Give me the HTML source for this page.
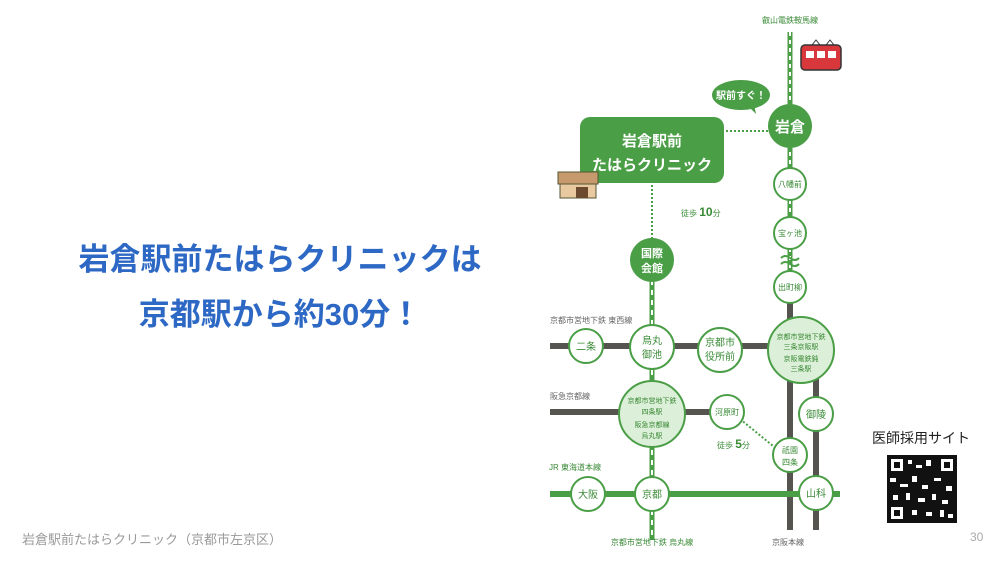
<!DOCTYPE html>
<html><head><meta charset="utf-8"><style>
body{margin:0;width:1002px;height:563px;background:#fff;overflow:hidden;font-family:"Liberation Sans","Noto Sans CJK JP",sans-serif;position:relative}
.t{position:absolute;left:0;width:560px;text-align:center;color:#2c68c4;font-weight:bold;font-size:31px}
</style></head><body>
<div class="t" style="top:234px">岩倉駅前たはらクリニックは</div>
<div class="t" style="top:289px">京都駅から約30分！</div>
<div style="position:absolute;left:22px;top:529px;font-size:13px;color:#9a9a9a">岩倉駅前たはらクリニック（京都市左京区）</div>
<div style="position:absolute;left:970px;top:530px;font-size:12px;color:#aaa">30</div>
<div style="position:absolute;left:872px;top:428px;font-size:14px;color:#222">医師採用サイト</div>
<svg width="1002" height="563" style="position:absolute;left:0;top:0" font-family="'Liberation Sans','Noto Sans CJK JP',sans-serif">
<g fill="#4a9e46">
<rect x="550" y="343" width="220" height="6" fill="#55544e"/>
<rect x="550" y="409" width="170" height="6" fill="#55544e"/>
<rect x="787" y="300" width="6" height="230" fill="#55544e"/>
<rect x="813" y="370" width="6" height="160" fill="#55544e"/>
<rect x="550" y="491" width="290" height="6"/>
<line x1="790" y1="32" x2="790" y2="300" stroke="#4a9e46" stroke-width="5"/>
<line x1="790" y1="32" x2="790" y2="300" stroke="#fff" stroke-width="2" stroke-dasharray="4 4"/>
<line x1="652" y1="190" x2="652" y2="540" stroke="#4a9e46" stroke-width="5"/>
<line x1="652" y1="190" x2="652" y2="540" stroke="#fff" stroke-width="2" stroke-dasharray="5 5"/>
<rect x="640" y="185" width="24" height="53" fill="#fff"/>
<line x1="652" y1="185" x2="652" y2="238" stroke="#4a9e46" stroke-width="2" stroke-dasharray="2 2"/>
<line x1="726" y1="131" x2="768" y2="131" stroke="#4a9e46" stroke-width="2" stroke-dasharray="2 2"/>
<line x1="740" y1="419" x2="778" y2="450" stroke="#4a9e46" stroke-width="2" stroke-dasharray="2 2"/>
<path d="M781 258q4-4 9 0t9 0M781 264q4-4 9 0t9 0" stroke="#4a9e46" stroke-width="2" fill="none"/>
<rect x="580" y="117" width="144" height="66" rx="10"/>
<ellipse cx="741" cy="95" rx="29" ry="15"/><path d="M748 106l8 8-2-10z"/>
<circle cx="790" cy="126" r="22"/><circle cx="652" cy="260" r="22"/>
</g>
<g stroke="#4a9e46" stroke-width="2" fill="#fff">
<circle cx="790" cy="184" r="16"/><circle cx="790" cy="233" r="16"/><circle cx="790" cy="287" r="16"/>
<circle cx="801" cy="350" r="33" fill="#dcefd8"/><circle cx="652" cy="414" r="33" fill="#dcefd8"/>
<circle cx="586" cy="346" r="17"/><circle cx="652" cy="347" r="22"/><circle cx="720" cy="350" r="22"/>
<circle cx="727" cy="412" r="17"/><circle cx="816" cy="414" r="17"/><circle cx="790" cy="455" r="17"/>
<circle cx="588" cy="494" r="17"/><circle cx="652" cy="494" r="17"/><circle cx="816" cy="493" r="17"/>
</g>
<rect x="801" y="45" width="40" height="25" rx="4" fill="#d8383c" stroke="#333" stroke-width="1.5"/>
<rect x="806" y="51" width="8" height="7" fill="#fff"/><rect x="817" y="51" width="8" height="7" fill="#fff"/><rect x="828" y="51" width="8" height="7" fill="#fff"/>
<path d="M812 45l4-5 4 5M826 45l4-5 4 5" stroke="#333" fill="none"/>
<rect x="558" y="172" width="40" height="12" fill="#c79a6e" stroke="#553" /><rect x="560" y="184" width="36" height="14" fill="#e8c9a0" stroke="#553"/>
<rect x="576" y="187" width="12" height="11" fill="#6b4a30"/>
<g fill="#fff" text-anchor="middle" font-weight="bold">
<text x="652" y="146" font-size="15">岩倉駅前</text><text x="652" y="170" font-size="15">たはらクリニック</text>
<text x="741" y="99" font-size="10">駅前すぐ！</text>
<text x="790" y="132" font-size="15">岩倉</text>
<text x="652" y="257" font-size="11">国際</text><text x="652" y="272" font-size="11">会館</text>
</g>
<g fill="#3a8a36" text-anchor="middle" font-size="8">
<text x="790" y="23" font-size="8">叡山電鉄鞍馬線</text>
<text x="790" y="187">八幡前</text><text x="790" y="236">宝ヶ池</text><text x="790" y="290">出町柳</text>
<text x="801" y="339" font-size="7">京都市営地下鉄</text><text x="801" y="349" font-size="7">三条京阪駅</text><text x="801" y="361" font-size="7">京阪電鉄鈍</text><text x="801" y="371" font-size="7">三条駅</text>
<text x="652" y="403" font-size="7">京都市営地下鉄</text><text x="652" y="414" font-size="7">四条駅</text><text x="652" y="427" font-size="7">阪急京都線</text><text x="652" y="438" font-size="7">烏丸駅</text>
<text x="586" y="350" font-size="10">二条</text>
<text x="652" y="344" font-size="10">烏丸</text><text x="652" y="358" font-size="10">御池</text>
<text x="720" y="346" font-size="10">京都市</text><text x="720" y="360" font-size="10">役所前</text>
<text x="727" y="415">河原町</text><text x="816" y="418" font-size="10">御陵</text>
<text x="790" y="453">祇園</text><text x="790" y="465">四条</text>
<text x="588" y="498" font-size="10">大阪</text><text x="652" y="498" font-size="10">京都</text><text x="816" y="497" font-size="10">山科</text>
<text x="681" y="216" text-anchor="start">徒歩 <tspan font-size="12" font-weight="bold">10</tspan>分</text>
<text x="717" y="448" text-anchor="start">徒歩 <tspan font-size="12" font-weight="bold">5</tspan>分</text>
<text x="549" y="470" text-anchor="start">JR 東海道本線</text>
<text x="652" y="545">京都市営地下鉄 烏丸線</text>
</g>
<g fill="#666" font-size="8">
<text x="550" y="323">京都市営地下鉄 東西線</text><text x="550" y="399">阪急京都線</text><text x="772" y="545">京阪本線</text>
</g>
<rect x="887" y="455" width="70" height="68" fill="#111"/>
<g fill="#fff">
<rect x="891" y="459" width="12" height="12"/><rect x="941" y="459" width="12" height="12"/><rect x="891" y="507" width="12" height="12"/>
<rect x="908" y="460" width="4" height="4"/><rect x="916" y="465" width="6" height="3"/><rect x="926" y="460" width="5" height="6"/>
<rect x="890" y="478" width="6" height="4"/><rect x="900" y="484" width="8" height="3"/><rect x="912" y="476" width="5" height="6"/>
<rect x="922" y="485" width="6" height="4"/><rect x="934" y="478" width="7" height="3"/><rect x="946" y="486" width="6" height="5"/>
<rect x="893" y="495" width="5" height="5"/><rect x="906" y="493" width="4" height="7"/><rect x="918" y="498" width="7" height="4"/>
<rect x="932" y="494" width="4" height="6"/><rect x="942" y="500" width="6" height="4"/><rect x="912" y="510" width="5" height="5"/>
<rect x="926" y="512" width="6" height="4"/><rect x="940" y="510" width="4" height="7"/><rect x="948" y="514" width="5" height="4"/>
</g>
<g fill="#111"><rect x="894" y="462" width="6" height="6"/><rect x="944" y="462" width="6" height="6"/><rect x="894" y="510" width="6" height="6"/></g>
</svg>
</body></html>
